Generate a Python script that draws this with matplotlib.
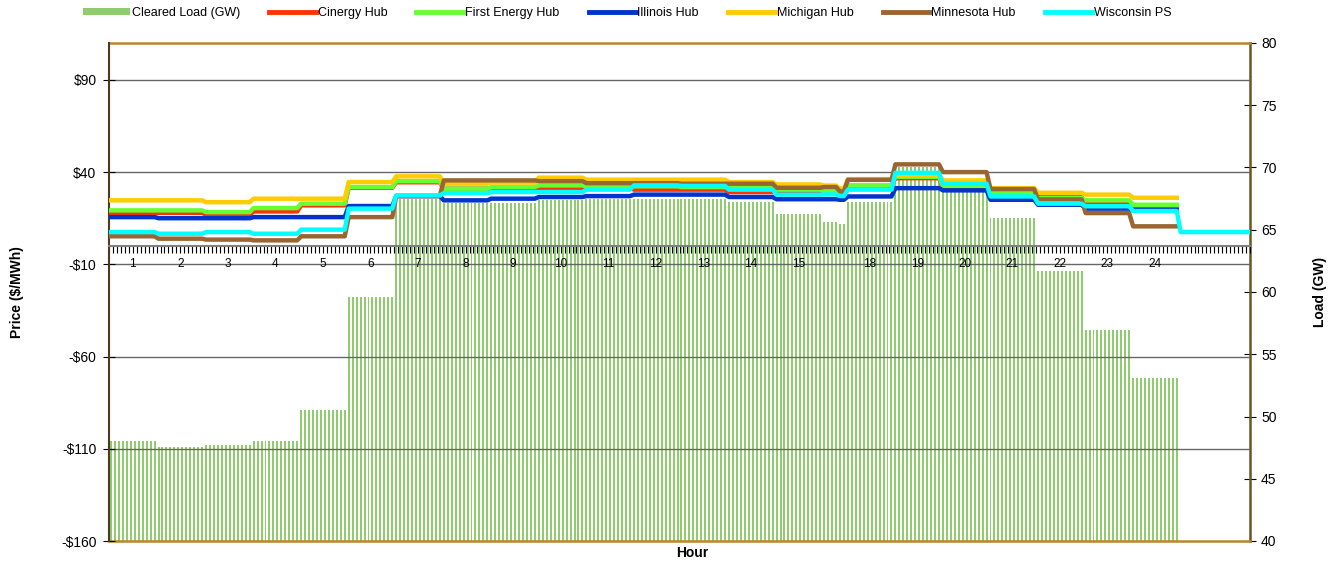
import numpy as np
import matplotlib
matplotlib.use('Agg')
import matplotlib.pyplot as plt
from matplotlib.patches import Patch
from matplotlib.lines import Line2D

plt.rcParams['font.family'] = ['Liberation Sans', 'DejaVu Sans']

nan = np.nan
# ---- data (one value per block of 5-minute intervals) ----
block_labels = ['1', '2', '3', '4', '5', '6', '7', '8', '9', '10', '11', '12', '13', '14', '15',
                '', '', '18', '19', '20', '21', '22', '23', '24', '']
block_lengths = [12] * 15 + [4, 2] + [12] * 7 + [18]

load_gw = [48.0, 47.55, 47.7, 48.0, 50.5, 59.6, 67.5, 67.15, 67.15, 67.4, 67.5, 67.5, 67.5,
           67.2, 66.3, 65.6, 65.45, 67.2, 70.05, 68.6, 65.95, 61.7, 56.95, 53.1, nan]

cinergy = [17.5, 17.9, 16.9, 18.7, 22.0, 31.5, 34.5, 31.0, 30.5, 31.0, 31.6, 30.5, 30.5,
           29.2, 29.0, 28.6, 28.5, 32.5, 36.7, 31.9, 28.0, 26.5, 23.0, 21.0, nan]
first_energy = [19.25, 19.25, 18.3, 20.5, 22.9, 31.9, 35.1, 31.0, 31.9, 32.8, 32.3, 32.3, 31.9,
                31.5, 30.5, 29.5, 29.5, 32.8, 37.5, 32.5, 28.6, 26.0, 24.7, 22.3, nan]
illinois = [15.6, 15.0, 15.0, 15.6, 15.6, 21.6, 27.0, 24.7, 25.6, 26.5, 27.0, 27.8, 27.8,
            26.5, 25.3, 25.3, 25.0, 26.8, 31.3, 30.1, 25.0, 22.3, 20.2, 19.3, nan]
michigan = [24.7, 24.7, 23.7, 25.6, 25.6, 34.6, 37.7, 33.7, 34.3, 37.0, 35.9, 35.9, 35.9,
            34.6, 33.3, 32.7, 31.0, 36.2, 38.2, 35.5, 31.3, 28.8, 27.8, 26.1, nan]
minnesota = [5.2, 3.9, 3.4, 3.0, 5.2, 15.6, 27.0, 35.5, 35.5, 35.1, 34.0, 34.0, 33.7,
             33.7, 31.5, 31.9, 29.5, 35.8, 44.2, 40.0, 30.8, 25.2, 17.8, 10.6, nan]
wisconsin = [7.5, 6.6, 7.5, 6.6, 8.8, 20.2, 27.4, 28.6, 29.2, 29.2, 30.5, 32.8, 32.5,
             30.5, 27.8, 27.9, 27.0, 30.5, 39.6, 33.7, 26.8, 22.9, 21.5, 18.9, 7.5]

price_ticks = [-160, -110, -60, -10, 40, 90]
price_ticklabels = ['-$160', '-$110', '-$60', '-$10', '$40', '$90']
load_ticks = [40, 45, 50, 55, 60, 65, 70, 75, 80]

series = [
    ('Cinergy Hub', cinergy, '#FF3300'),
    ('First Energy Hub', first_energy, '#66FF33'),
    ('Illinois Hub', illinois, '#0033CC'),
    ('Michigan Hub', michigan, '#FFCC00'),
    ('Minnesota Hub', minnesota, '#996633'),
    ('Wisconsin PS', wisconsin, '#00FFFF'),
]
bar_color = '#8FCC6E'

# ---- expand blocks to intervals ----
lengths = np.array(block_lengths)
n = lengths.sum()
xc = np.arange(n) + 0.5
edges = np.concatenate([[0], np.cumsum(lengths)])
centers = (edges[:-1] + edges[1:]) / 2.0

fig = plt.figure(figsize=(13.39, 5.63), dpi=100)
ax = fig.add_axes([109 / 1339, 1 - 541 / 563, 1141 / 1339, 498 / 563])
ax2 = ax.twinx()
ax.set_zorder(ax2.get_zorder() + 1)
ax.patch.set_visible(False)
ax2.patch.set_visible(False)

# bars on load axis
load_i = np.repeat(np.array(load_gw, dtype=float), lengths)
mask = ~np.isnan(load_i)
ax2.bar(xc[mask], load_i[mask] - 40, bottom=40, width=0.5, color=bar_color,
        linewidth=0, antialiased=False)
ax2.set_ylim(40, 80)
ax2.set_yticks(load_ticks)
ax2.tick_params(axis='y', direction='inout', length=8, labelsize=10, pad=4)
ax2.set_xlim(0, n)

# gridlines on price axis
for t in price_ticks[1:]:
    ax.axhline(t, color='#666666', lw=1.0, zorder=1)

for name, vals, col in series:
    v = np.repeat(np.array(vals, dtype=float), lengths)
    ax.plot(xc, v, color=col, lw=3.2, solid_joinstyle='round', zorder=3)

ax.set_xlim(0, n)
ax.set_ylim(-160, 110)
ax.set_yticks(price_ticks)
ax.set_yticklabels(price_ticklabels)
ax.tick_params(axis='y', direction='inout', length=8, labelsize=10, pad=5)

# category x axis crossing at price 0
ax.xaxis.remove_overlapping_locs = False
ax.spines['bottom'].set_position(('data', 0))
ax.spines['bottom'].set_color('#808080')
ax.spines['bottom'].set_linewidth(1.5)
ax.spines['bottom'].set_zorder(4)
ax.set_xticks(np.arange(0, n + 1))
ax.set_xticklabels([])
ax.tick_params(axis='x', which='major', direction='out', length=5, width=0.8, color='black')
ax.set_xticks(centers, minor=True)
ax.set_xticklabels(block_labels, minor=True)
ax.tick_params(axis='x', which='minor', length=0, labelsize=8.5, pad=8.5)

ax.spines['left'].set_color('#4B3B1E')
ax.spines['left'].set_linewidth(1.5)
ax.spines['top'].set_visible(False)
ax.spines['right'].set_visible(False)

for s in ['top', 'bottom']:
    ax2.spines[s].set_color('#B8862B')
    ax2.spines[s].set_linewidth(1.8)
ax2.spines['right'].set_color('#6B5520')
ax2.spines['right'].set_linewidth(1.8)
ax2.spines['left'].set_visible(False)

fig.text(17 / 1339, 0.481, 'Price ($/MWh)', rotation=90, ha='center', va='center',
         fontsize=10, fontweight='bold')
fig.text(1320 / 1339, 0.481, 'Load (GW)', rotation=90, ha='center', va='center',
         fontsize=10, fontweight='bold')
fig.text(692 / 1339, 1 - 553 / 563, 'Hour', ha='center', va='center',
         fontsize=10, fontweight='bold')

handles = [Patch(facecolor=bar_color, edgecolor='none')]
labels = ['Cleared Load (GW)']
for name, vals, col in series:
    handles.append(Line2D([0], [0], color=col, lw=3.5))
    labels.append(name)
fig.legend(handles, labels, loc='center', bbox_to_anchor=(627 / 1339, 1 - 13 / 563),
           ncol=7, frameon=False, fontsize=9, handlelength=3.8, handleheight=0.55,
           handletextpad=0.1, columnspacing=2.33, borderaxespad=0, borderpad=0)

fig.savefig('out.png', dpi=100, facecolor='white')
